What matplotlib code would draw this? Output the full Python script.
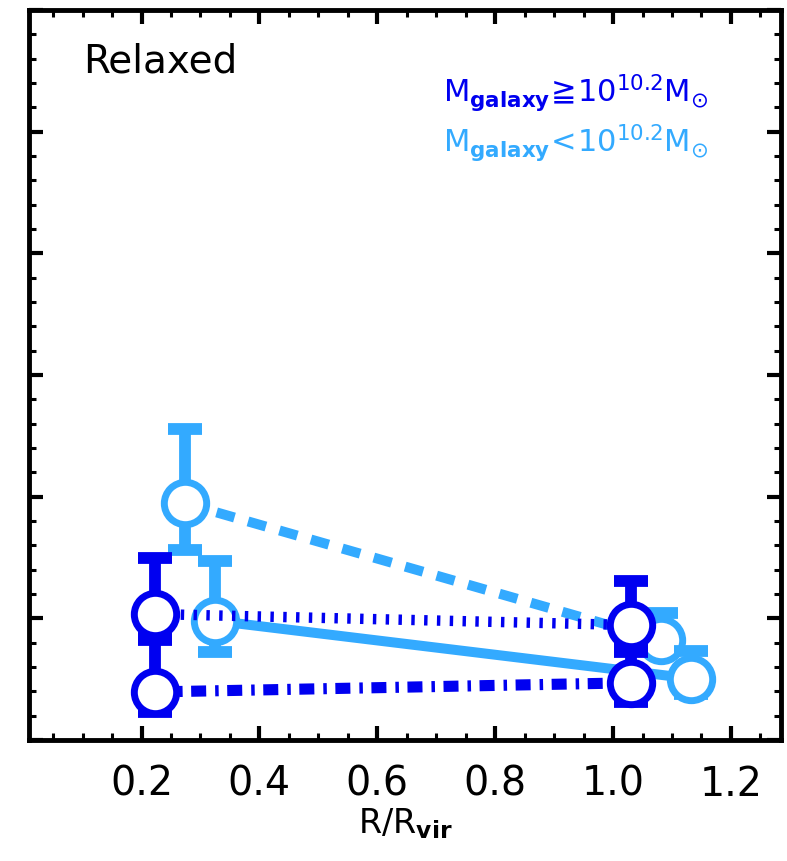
import numpy as np
import matplotlib
matplotlib.use('Agg')
from matplotlib import pyplot as plt
from matplotlib.ticker import MultipleLocator

dark = '#0000f0'
light = '#33aaff'

# R/Rvir positions (offset a little so the samples do not overlap)
x_hi = [0.223, 1.031]
x_lo_dash = [0.274, 1.082]
x_lo_solid = [0.325, 1.133]

# high mass galaxies, dotted sample
hi_dot = [0.207, 0.189]
hi_dot_low = [0.169, 0.155]
hi_dot_up = [0.300, 0.262]
# high mass galaxies, dash-dot sample
hi_dd = [0.079, 0.094]
hi_dd_low = [0.046, 0.063]
hi_dd_up = [0.164, 0.145]
# low mass galaxies, dashed sample
lo_dash = [0.389, 0.164]
lo_dash_low = [0.312, 0.145]
lo_dash_up = [0.511, 0.209]
# low mass galaxies, solid sample
lo_solid = [0.196, 0.101]
lo_solid_low = [0.145, 0.075]
lo_solid_up = [0.295, 0.147]


def draw(ax, x, y, low, up, color, ls, lw, z):
    y = np.array(y)
    yerr = [y - np.array(low), np.array(up) - y]
    ax.errorbar(x, y, yerr=yerr, fmt='none', ecolor=color, elinewidth=8.5,
                capsize=12, capthick=8.5, zorder=z)
    ax.plot(x, y, color=color, lw=lw, linestyle=ls, marker='o', ms=30.5,
            mew=5, mfc='white', mec=color, zorder=z + 0.5)


fig = plt.figure(figsize=(7.87, 8.61), dpi=100)
ax = fig.add_axes([29 / 787, 1 - 740 / 861, 752 / 787, 730 / 861])

draw(ax, x_lo_dash, lo_dash, lo_dash_low, lo_dash_up, light, (0, (1.86, 1.41)), 7.2, 2)
draw(ax, x_lo_solid, lo_solid, lo_solid_low, lo_solid_up, light, '-', 7.2, 3)
draw(ax, x_hi, hi_dot, hi_dot_low, hi_dot_up, dark, (0, (0.33, 0.9)), 7.5, 4)
draw(ax, x_hi, hi_dd, hi_dd_low, hi_dd_up, dark, (0, (1.35, 0.81, 0.315, 0.77)), 8, 5)

ax.set_xlim(0.009, 1.285)
ax.set_ylim(0, 1.2)
ax.xaxis.set_major_locator(MultipleLocator(0.2))
ax.xaxis.set_minor_locator(MultipleLocator(0.05))
ax.yaxis.set_major_locator(MultipleLocator(0.2))
ax.yaxis.set_minor_locator(MultipleLocator(0.04))
ax.set_xticks([0.2, 0.4, 0.6, 0.8, 1.0, 1.2])
ax.set_xticklabels(['0.2', '0.4', '0.6', '0.8', '1.0', '1.2'])
ax.tick_params(which='both', direction='in', top=True, right=True, labelleft=False)
ax.tick_params(which='major', length=10, width=3)
ax.tick_params(which='minor', length=5, width=2.2)
ax.tick_params(axis='x', labelsize=28.5, pad=18)
for s in ax.spines.values():
    s.set_linewidth(3.5)

ax.set_xlabel(r'$\mathrm{R/R_{\mathbf{vir}}}$', fontsize=24, labelpad=1)

ax.text(0.072, 0.915, 'Relaxed', transform=ax.transAxes, fontsize=28,
        ha='left', va='baseline')
ax.text(0.903, 0.874, r'$\mathrm{M_{\mathbf{galaxy}}\!\geqq\!10^{10.2}M_{\odot}}$',
        transform=ax.transAxes, fontsize=22, color=dark, ha='right', va='baseline')
ax.text(0.903, 0.805, r'$\mathrm{M_{\mathbf{galaxy}}\!<\!10^{10.2}M_{\odot}}$',
        transform=ax.transAxes, fontsize=22, color=light, ha='right', va='baseline')

plt.savefig('out.png', dpi=100)
plt.close()
